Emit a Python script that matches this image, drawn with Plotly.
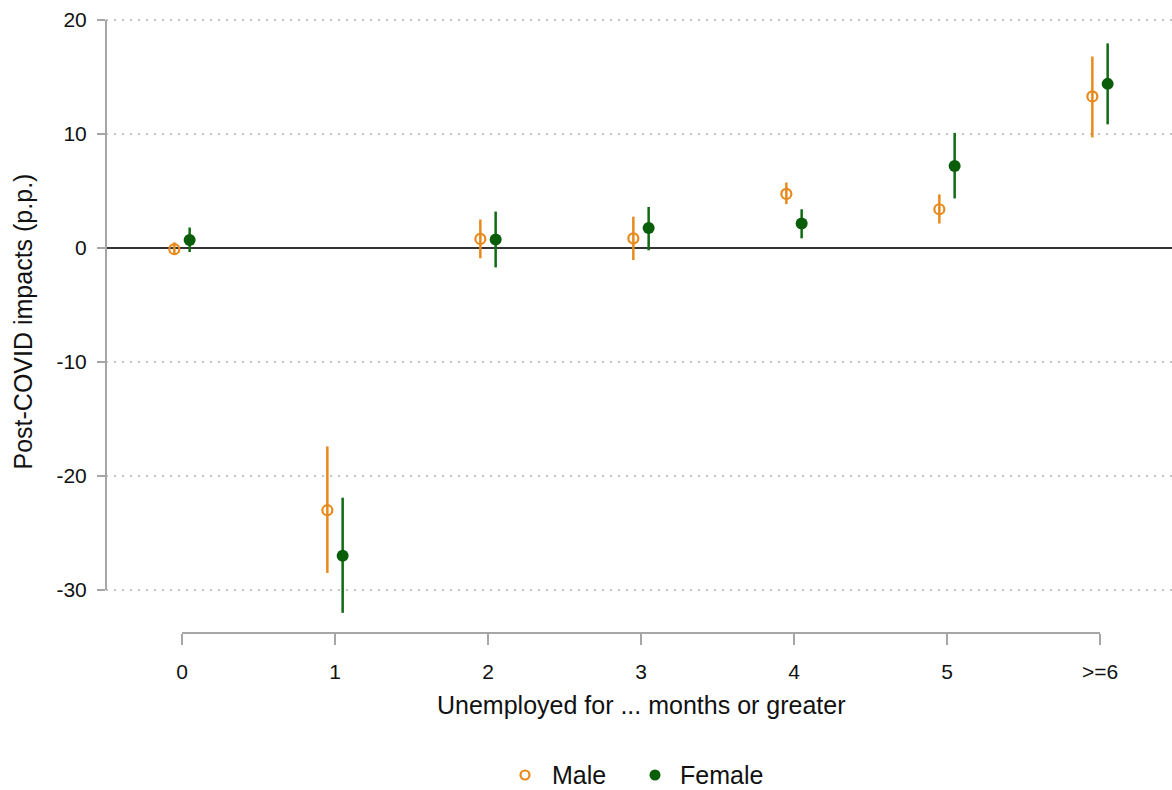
import plotly.graph_objects as go

# Unemployment-duration bins
categories = ["0", "1", "2", "3", "4", "5", ">=6"]

# Point estimates and 95% confidence bounds (percentage points)
male_est = [-0.1, -23.0, 0.8, 0.85, 4.75, 3.4, 13.3]
male_lo = [-0.6, -28.5, -0.9, -1.05, 3.85, 2.15, 9.7]
male_hi = [0.5, -17.4, 2.5, 2.75, 5.75, 4.7, 16.8]

female_est = [0.7, -27.0, 0.75, 1.75, 2.15, 7.2, 14.4]
female_lo = [-0.35, -32.0, -1.7, -0.2, 0.85, 4.35, 10.85]
female_hi = [1.8, -21.9, 3.2, 3.6, 3.4, 10.1, 17.95]

y_ticks = [20, 10, 0, -10, -20, -30]
y_tick_labels = ["20", "10", "0", "-10", "-20", "-30"]

ORANGE = "#E8891C"
GREEN = "#0A5E0A"
AXIS_GREY = "#A6A6A6"
FONT = "Liberation Sans, Arial, sans-serif"
TEXT = "#111111"

W, H = 1172, 790
M_L, M_R, M_T, M_B = 106, 0, 10, 157
PW, PH = W - M_L - M_R, H - M_T - M_B


def px_to_paper(px, py):
    """Convert page pixel position to paper coordinates."""
    return (px - M_L) / PW, (H - M_B - py) / PH


idx = list(range(len(categories)))
offset = 0.05

fig = go.Figure()

fig.add_trace(go.Scatter(
    x=[i - offset for i in idx],
    y=male_est,
    mode="markers",
    name="Male",
    marker=dict(symbol="circle-open", size=10, color=ORANGE, line=dict(width=2.2, color=ORANGE)),
    error_y=dict(
        type="data", symmetric=False,
        array=[h - e for h, e in zip(male_hi, male_est)],
        arrayminus=[e - l for e, l in zip(male_est, male_lo)],
        color=ORANGE, thickness=2.5, width=0,
    ),
))

fig.add_trace(go.Scatter(
    x=[i + offset for i in idx],
    y=female_est,
    mode="markers",
    name="Female",
    marker=dict(symbol="circle", size=12, color=GREEN),
    error_y=dict(
        type="data", symmetric=False,
        array=[h - e for h, e in zip(female_hi, female_est)],
        arrayminus=[e - l for e, l in zip(female_est, female_lo)],
        color="#0F6A12", thickness=2.5, width=0,
    ),
))

shapes = [
    # y axis line spanning the labelled range
    dict(type="line", xref="paper", yref="y", x0=0, x1=0, y0=min(y_ticks), y1=max(y_ticks),
         line=dict(color=AXIS_GREY, width=2)),
    # x axis line spanning the category range
    dict(type="line", xref="x", yref="paper", x0=idx[0], x1=idx[-1], y0=0, y1=0,
         line=dict(color=AXIS_GREY, width=2)),
]

annotations = [
    dict(text="Post-COVID impacts (p.p.)", xref="paper", yref="paper", x=0, y=0.5,
         xshift=-84, textangle=-90, showarrow=False, xanchor="center", yanchor="middle",
         font=dict(family=FONT, size=25, color=TEXT)),
    dict(text="Unemployed for ... months or greater", xref="x", yref="paper", x=3, y=0,
         yshift=-72, showarrow=False, xanchor="center", yanchor="middle",
         font=dict(family=FONT, size=25, color=TEXT)),
]

# Legend drawn in the bottom margin: key symbol + label for each series
legend_items = [
    ("Male", 525, 550, dict(fillcolor="white", line=dict(color=ORANGE, width=2.2)), 4.5),
    ("Female", 655, 678, dict(fillcolor=GREEN, line=dict(color=GREEN, width=0)), 5.5),
]
legend_y = 775
for label, kx, tx, style, r in legend_items:
    cx, cy = px_to_paper(kx, legend_y)
    shapes.append(dict(type="circle", xref="paper", yref="paper",
                       xsizemode="pixel", ysizemode="pixel",
                       xanchor=cx, yanchor=cy, x0=-r, x1=r, y0=-r, y1=r, **style))
    lx, ly = px_to_paper(tx, legend_y)
    annotations.append(dict(text=label, xref="paper", yref="paper", x=lx, y=ly,
                            showarrow=False, xanchor="left", yanchor="middle",
                            font=dict(family=FONT, size=25, color=TEXT)))

fig.update_layout(
    width=W, height=H,
    margin=dict(l=M_L, r=M_R, t=M_T, b=M_B),
    paper_bgcolor="white", plot_bgcolor="white",
    font=dict(family=FONT, color=TEXT),
    shapes=shapes,
    annotations=annotations,
    showlegend=False,
    xaxis=dict(
        range=[-0.4967, 6.4706],
        tickvals=idx, ticktext=categories,
        showgrid=False, zeroline=False, showline=False,
        ticks="outside", ticklen=11, tickwidth=2, tickcolor=AXIS_GREY,
        tickfont=dict(family=FONT, size=21, color=TEXT),
        ticklabelstandoff=9,
    ),
    yaxis=dict(
        range=[-33.77, 20.88],
        tickvals=y_ticks, ticktext=y_tick_labels,
        showgrid=True, gridcolor="#C4C4C4", gridwidth=1.5, griddash="2px,6px",
        zeroline=True, zerolinecolor="#333333", zerolinewidth=2.4,
        showline=False,
        ticks="outside", ticklen=8, tickwidth=2, tickcolor=AXIS_GREY,
        tickfont=dict(family=FONT, size=21, color=TEXT),
        ticklabelstandoff=6,
    ),
)

fig.write_html("out.html")
